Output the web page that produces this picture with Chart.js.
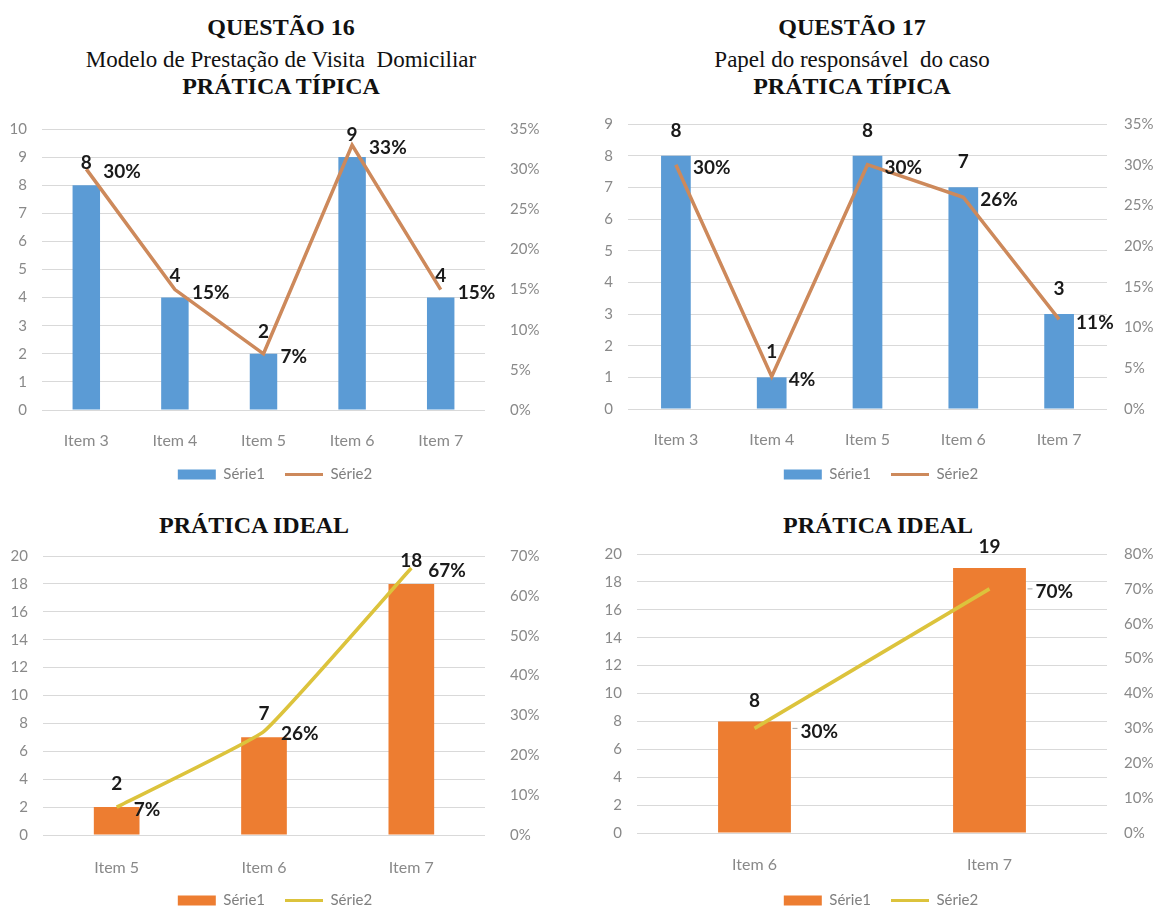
<!DOCTYPE html>
<html lang="pt">
<head>
<meta charset="utf-8">
<title>Questões 16 e 17</title>
<script src="https://cdn.jsdelivr.net/npm/chart.js@4.4.1/dist/chart.umd.min.js"></script>
<style>
  html, body { margin: 0; padding: 0; background: #fff; overflow: hidden; }
  #page { position: relative; width: 1156px; height: 908px; overflow: hidden; }
  canvas { position: absolute; }
  .t { position: absolute; transform: translate(-50%, -50%); white-space: pre; font-family: "Liberation Serif", "Times New Roman", serif; color: #111; line-height: 1; }
  .b { font-weight: bold; font-size: 24px; }
  .r { font-size: 23px; }
</style>
</head>
<body>
<div id="page">
  <div class="t b" style="left:281px;top:27px">QUESTÃO 16</div>
  <div class="t r" style="left:281px;top:59px">Modelo de Prestação de Visita  Domiciliar</div>
  <div class="t b" style="left:281px;top:86px">PRÁTICA TÍPICA</div>

  <div class="t b" style="left:852px;top:27px">QUESTÃO 17</div>
  <div class="t r" style="left:852px;top:59px">Papel do responsável  do caso</div>
  <div class="t b" style="left:852px;top:86px">PRÁTICA TÍPICA</div>

  <div class="t b" style="left:254px;top:525px">PRÁTICA IDEAL</div>
  <div class="t b" style="left:878px;top:525px">PRÁTICA IDEAL</div>

  <canvas id="q16tipica" width="550" height="400" style="left:0;top:100px"></canvas>
  <canvas id="q17tipica" width="582" height="400" style="left:590px;top:100px"></canvas>
  <canvas id="q16ideal" width="550" height="400" style="left:0;top:530px"></canvas>
  <canvas id="q17ideal" width="582" height="400" style="left:590px;top:530px"></canvas>
</div>
<script>
// series names shown in every legend
const seriesNames = ['Série1', 'Série2'];

// Questão 16 - prática típica
const q16TipicaItems = ['Item 3', 'Item 4', 'Item 5', 'Item 6', 'Item 7'];
const q16TipicaCounts = [8, 4, 2, 9, 4];
const q16TipicaShares = [30, 15, 7, 33, 15];

// Questão 17 - prática típica
const q17TipicaItems = ['Item 3', 'Item 4', 'Item 5', 'Item 6', 'Item 7'];
const q17TipicaCounts = [8, 1, 8, 7, 3];
const q17TipicaShares = [30, 4, 30, 26, 11];

// Questão 16 - prática ideal
const q16IdealItems = ['Item 5', 'Item 6', 'Item 7'];
const q16IdealCounts = [2, 7, 18];
const q16IdealShares = [7, 26, 67];

// Questão 17 - prática ideal
const q17IdealItems = ['Item 6', 'Item 7'];
const q17IdealCounts = [8, 19];
const q17IdealShares = [30, 70];

const BLUE = '#5B9BD5';
const ORANGE = '#ED7D31';
const BROWN_LINE = '#CD895B';
const YELLOW_LINE = '#DCC33C';
const GRID = '#d9d9d9';
const TICK = '#898989';
const FONT = 'Lato, "Open Sans", sans-serif';

// value labels: count above each bar, percentage right of each line point
const valueLabels = {
  id: 'valueLabels',
  afterDatasetsDraw(chart, args, opts) {
    const ctx = chart.ctx;
    ctx.save();
    ctx.font = 'bold 19px ' + FONT;
    ctx.fillStyle = '#1a1a1a';
    ctx.textBaseline = 'middle';
    chart.data.datasets.forEach((ds, i) => {
      const meta = chart.getDatasetMeta(i);
      meta.data.forEach((el, j) => {
        const v = ds.data[j];
        if (ds.type === 'bar') {
          ctx.textAlign = 'center';
          ctx.fillText(String(v), el.x, el.y - opts.barGap);
        } else {
          if (opts.leader) {
            // short leader tick before the label
            ctx.save();
            ctx.strokeStyle = '#a6a6a6';
            ctx.lineWidth = 1;
            ctx.beginPath();
            ctx.moveTo(el.x + opts.pctGap - 8, el.y);
            ctx.lineTo(el.x + opts.pctGap - 3, el.y);
            ctx.stroke();
            ctx.restore();
          }
          ctx.textAlign = 'left';
          ctx.fillText(v + '%', el.x + opts.pctGap, el.y + 3);
        }
      });
    });
    ctx.restore();
  }
};

function comboChart(id, o) {
  const yFont = { family: FONT, size: 15 };
  const xFont = { family: FONT, size: 16 };
  return new Chart(document.getElementById(id), {
    data: {
      labels: o.items,
      datasets: [
        {
          type: 'bar', label: seriesNames[0], data: o.counts,
          backgroundColor: o.barColor, borderWidth: 0,
          barPercentage: 0.31, categoryPercentage: 1,
          yAxisID: 'y', order: 2
        },
        {
          type: 'line', label: seriesNames[1], data: o.shares,
          borderColor: o.lineColor, borderWidth: 3.5, pointRadius: 0,
          tension: o.tension || 0, yAxisID: 'y1', order: 1
        }
      ]
    },
    options: {
      responsive: false,
      animation: false,
      layout: { padding: { top: o.padTop, bottom: o.padBottom, left: 0, right: 0 } },
      plugins: {
        tooltip: { enabled: false },
        legend: {
          position: 'bottom',
          labels: {
            usePointStyle: true,
            pointStyleWidth: 38,
            boxHeight: 10,
            padding: 20,
            color: '#7f7f7f',
            font: { family: FONT, size: 15 },
            sort: (a, b) => a.datasetIndex - b.datasetIndex,
            generateLabels(chart) {
              const items = Chart.defaults.plugins.legend.labels.generateLabels(chart);
              items.forEach(it => {
                const ds = chart.data.datasets[it.datasetIndex];
                if (ds.type === 'line') {
                  it.pointStyle = 'line';
                  it.strokeStyle = ds.borderColor;
                  it.lineWidth = 3;
                } else {
                  it.pointStyle = 'rect';
                  it.fillStyle = ds.backgroundColor;
                  it.lineWidth = 0;
                }
              });
              return items;
            }
          }
        },
        valueLabels: { barGap: o.barGap, pctGap: o.pctGap, leader: o.leader }
      },
      scales: {
        x: {
          grid: { display: false },
          border: { display: false },
          ticks: { color: TICK, font: xFont, padding: o.xPad },
          afterFit: s => { s.height = o.xHeight; }
        },
        y: {
          position: 'left',
          min: 0, max: o.countMax,
          ticks: { stepSize: o.countStep, color: TICK, font: yFont, padding: 15 },
          grid: { color: GRID, drawTicks: false },
          border: { display: false },
          afterFit: s => { s.width = o.leftWidth; }
        },
        y1: {
          position: 'right',
          min: 0, max: o.shareMax,
          ticks: { stepSize: o.shareStep, color: TICK, font: yFont, padding: o.rightPad, callback: v => v + '%' },
          grid: { display: false },
          border: { display: false },
          afterFit: s => { s.width = 65; }
        }
      }
    },
    plugins: [valueLabels]
  });
}

comboChart('q16tipica', {
  items: q16TipicaItems, counts: q16TipicaCounts, shares: q16TipicaShares,
  barColor: BLUE, lineColor: BROWN_LINE,
  countMax: 10, countStep: 1, shareMax: 35, shareStep: 5,
  padTop: 29, padBottom: 8, xHeight: 37, xPad: 13, leftWidth: 42, rightPad: 17,
  barGap: 22, pctGap: 17
});

comboChart('q17tipica', {
  items: q17TipicaItems, counts: q17TipicaCounts, shares: q17TipicaShares,
  barColor: BLUE, lineColor: BROWN_LINE,
  countMax: 9, countStep: 1, shareMax: 35, shareStep: 5,
  padTop: 17, padBottom: 8, xHeight: 38, xPad: 13, leftWidth: 38, rightPad: 9,
  barGap: 25, pctGap: 17
});

comboChart('q16ideal', {
  items: q16IdealItems, counts: q16IdealCounts, shares: q16IdealShares,
  barColor: ORANGE, lineColor: YELLOW_LINE, tension: 0.1,
  countMax: 20, countStep: 2, shareMax: 70, shareStep: 10,
  padTop: 23, padBottom: 12, xHeight: 38, xPad: 15, leftWidth: 43, rightPad: 17,
  barGap: 23, pctGap: 17
});

comboChart('q17ideal', {
  items: q17IdealItems, counts: q17IdealCounts, shares: q17IdealShares,
  barColor: ORANGE, lineColor: YELLOW_LINE,
  countMax: 20, countStep: 2, shareMax: 80, shareStep: 10,
  padTop: 22, padBottom: 12, xHeight: 40, xPad: 14, leftWidth: 47, rightPad: 9,
  barGap: 21, pctGap: 46, leader: true
});
</script>
</body>
</html>
